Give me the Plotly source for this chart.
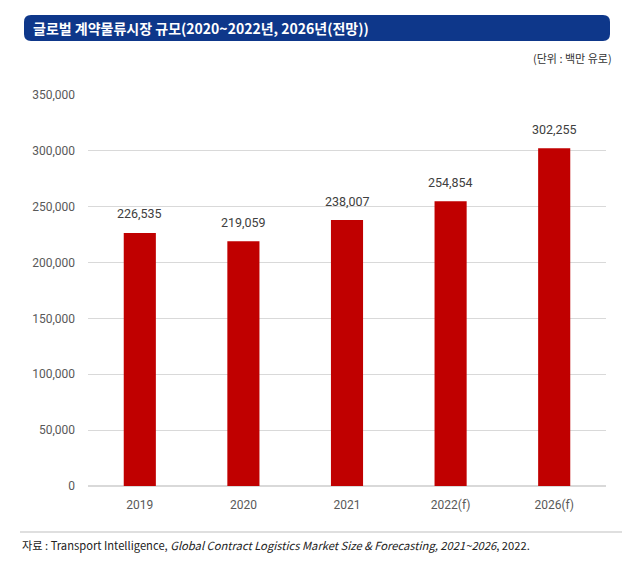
import plotly.graph_objects as go

years = ["2019", "2020", "2021", "2022(f)", "2026(f)"]
market_size = [226535, 219059, 238007, 254854, 302255]
y_ticks = [0, 50000, 100000, 150000, 200000, 250000, 300000, 350000]

# page has an 8px body margin, so work in page pixels and shift
OFF = 8
W, H = 644 - 2 * OFF, 563 - 2 * OFF
# plot area in page pixels
PX0, PX1, PY0, PY1 = 88, 606, 95, 486
L, T = PX0 - OFF, PY0 - OFF
R, B = W - (PX1 - OFF), H - (PY1 - OFF)
pw, ph = PX1 - PX0, PY1 - PY0


def px_x(x):
    return (x - PX0) / pw


def px_y(y):
    return (PY1 - y) / ph


def rounded_box(x0, y0, x1, y1, r):
    # rounded rectangle in paper coords, built from page pixel corners
    pts = [
        f"M {px_x(x0 + r)},{px_y(y0)}",
        f"L {px_x(x1 - r)},{px_y(y0)}",
        f"Q {px_x(x1)},{px_y(y0)} {px_x(x1)},{px_y(y0 + r)}",
        f"L {px_x(x1)},{px_y(y1 - r)}",
        f"Q {px_x(x1)},{px_y(y1)} {px_x(x1 - r)},{px_y(y1)}",
        f"L {px_x(x0 + r)},{px_y(y1)}",
        f"Q {px_x(x0)},{px_y(y1)} {px_x(x0)},{px_y(y1 - r)}",
        f"L {px_x(x0)},{px_y(y0 + r)}",
        f"Q {px_x(x0)},{px_y(y0)} {px_x(x0 + r)},{px_y(y0)}",
        "Z",
    ]
    return " ".join(pts)


font_main = "Roboto, Noto Sans CJK KR, sans-serif"
font_kr = "Noto Sans CJK KR, sans-serif"

fig = go.Figure(go.Bar(
    x=years,
    y=market_size,
    marker=dict(color="#c00000", line=dict(width=0)),
    width=0.31,
))

# value labels above the bars (category index as x)
for i, v in enumerate(market_size):
    fig.add_annotation(
        x=i, y=v, text=f"{v:,}", showarrow=False,
        xanchor="center", yanchor="middle", yshift=19,
        font=dict(family=font_main, size=12.5, color="#404040"),
    )

fig.update_layout(
    width=W, height=H,
    margin=dict(l=L, r=R, t=T, b=B),
    paper_bgcolor="white",
    plot_bgcolor="white",
    font=dict(family=font_main, color="#595959", size=12),
    showlegend=False,
    shapes=[
        dict(type="path", xref="paper", yref="paper",
             path=rounded_box(24, 15, 610, 41, 7),
             fillcolor="#0e378a", line=dict(width=0), layer="above"),
        dict(type="line", xref="paper", yref="paper",
             x0=px_x(20), x1=px_x(622), y0=px_y(532), y1=px_y(532),
             line=dict(color="#bfbfbf", width=1)),
    ],
)

fig.add_annotation(
    text="<b>글로벌 계약물류시장 규모(2020~2022년, 2026년(전망))</b>",
    xref="paper", yref="paper", x=px_x(31), y=px_y(28),
    xanchor="left", yanchor="middle", showarrow=False,
    font=dict(family=font_kr, size=14, color="white"),
)
fig.add_annotation(
    text="(단위 : 백만 유로)",
    xref="paper", yref="paper", x=px_x(614), y=px_y(58),
    xanchor="right", yanchor="middle", showarrow=False,
    font=dict(family=font_kr, size=11, color="#333333"),
)
fig.add_annotation(
    text="자료 : Transport Intelligence, <i>Global Contract Logistics Market Size & Forecasting, 2021~2026</i>, 2022.",
    xref="paper", yref="paper", x=px_x(20), y=px_y(545),
    xanchor="left", yanchor="middle", showarrow=False,
    font=dict(family=font_kr, size=11.2, color="#222222"),
)

fig.update_yaxes(
    range=[0, 350000],
    tickvals=y_ticks,
    tickformat=",",
    showgrid=True, gridcolor="#d9d9d9", gridwidth=1,
    zeroline=True, zerolinecolor="#d9d9d9",
    showline=False,
    ticks="", ticklabelstandoff=12,
    tickfont=dict(family=font_main, size=12, color="#595959"),
)
fig.update_xaxes(
    type="category",
    categoryorder="array", categoryarray=years,
    range=[-0.5, len(years) - 0.5],
    showline=False, ticks="",
    tickfont=dict(family=font_main, size=12, color="#595959"),
    ticklabelstandoff=10,
)

fig.write_html("out.html")
